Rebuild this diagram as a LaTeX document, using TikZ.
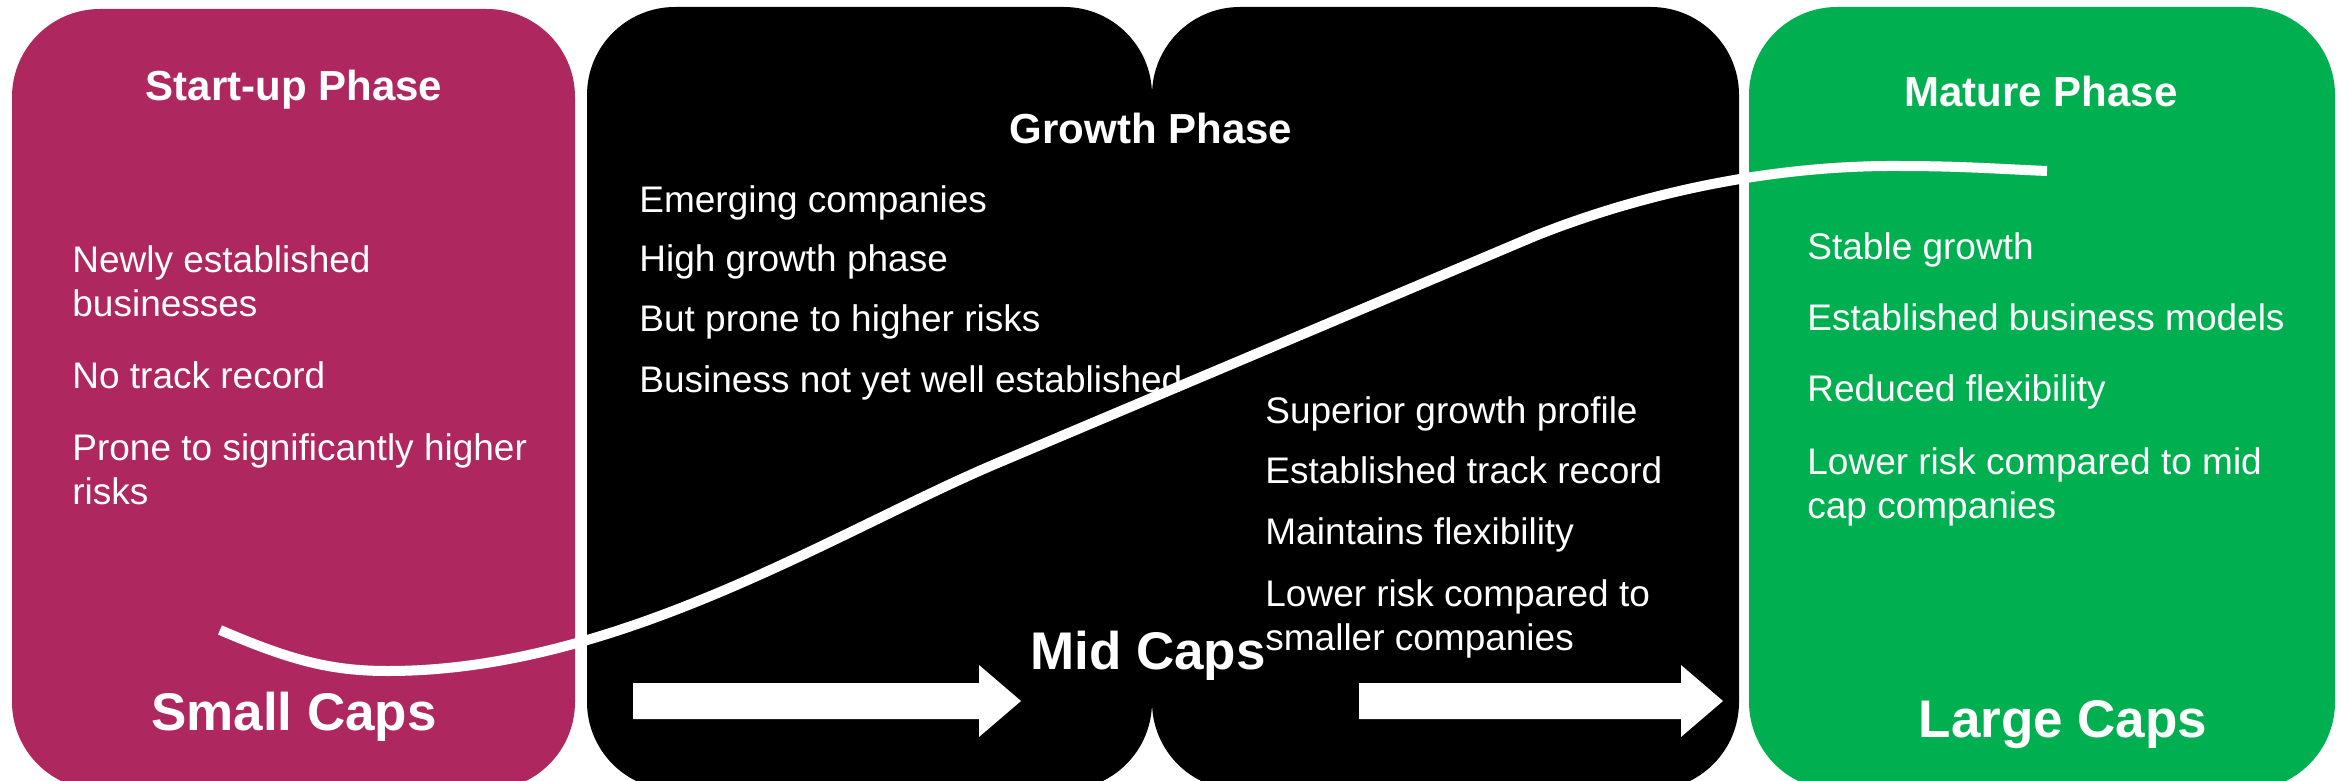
\documentclass[tikz,border=0pt]{standalone}
\usepackage{fontspec}
\setmainfont{Liberation Sans}
\definecolor{magentabox}{RGB}{174,39,94}
\definecolor{greenbox}{RGB}{0,176,80}
\begin{document}
\begin{tikzpicture}[x=0.5pt,y=-0.5pt,
  phasebox/.style={rounded corners=44pt},
  phasetitle/.style={text=white,font=\bfseries\fontsize{21}{25}\selectfont,anchor=base,inner sep=0pt},
  bullet/.style={text=white,font=\fontsize{18.5}{22}\selectfont,anchor=base west,align=left,inner sep=0pt},
  caplabel/.style={text=white,font=\bfseries\fontsize{26.5}{30}\selectfont,anchor=base,inner sep=0pt},
  blockarrow/.style={fill=white}]
\useasboundingbox (0,0) rectangle (2343,781);
\clip (0,0) rectangle (2343,781);
% boxes
\fill[magentabox,phasebox] (12,9) rectangle (575,790);
\fill[black,phasebox] (587,7) rectangle (1152,790);
\fill[black,phasebox] (1152,7) rectangle (1739,790);
\fill[greenbox,phasebox] (1749,7) rectangle (2335,790);
% titles
\node[phasetitle] (t1) at (294,101) {Start-up Phase};
\node[phasetitle] (t2) at (1151,143) {Growth Phase};
\node[phasetitle] (t4) at (2041,106) {Mature Phase};
% box 1 bullets (anchor = baseline of last line)
\node[bullet] (a1) at (72,316) {Newly established\\businesses};
\node[bullet] (a2) at (72,388) {No track record};
\node[bullet] (a3) at (72,504) {Prone to significantly higher\\risks};
% box 2 bullets
\node[bullet] (b1) at (639,212) {Emerging companies};
\node[bullet] (b2) at (639,271) {High growth phase};
\node[bullet] (b3) at (639,331) {But prone to higher risks};
\node[bullet] (b4) at (639,392) {Business not yet well established};
% box 3 bullets
\node[bullet] (c1) at (1265,423) {Superior growth profile};
\node[bullet] (c2) at (1265,483) {Established track record};
\node[bullet] (c3) at (1265,544) {Maintains flexibility};
\node[bullet] (c4) at (1265,650) {Lower risk compared to\\smaller companies};
% box 4 bullets
\node[bullet] (d1) at (1807,259) {Stable growth};
\node[bullet] (d2) at (1807,330) {Established business models};
\node[bullet] (d3) at (1807,401) {Reduced flexibility};
\node[bullet] (d4) at (1807,518) {Lower risk compared to mid\\cap companies};
% cap labels
\node[caplabel] (s) at (294,730) {Small Caps};
\node[caplabel] (m) at (1148,669) {Mid Caps};
\node[caplabel] (l) at (2063,737) {Large Caps};
% growth curve
\draw[white,line width=5pt,line join=round]
  (220,630) .. controls (290,660) and (330,671) .. (388,671)
  .. controls (620,671) and (840,529) .. (1000,462)
  -- (1535,236)
  .. controls (1650,190) and (1780,165) .. (1900,166)
  .. controls (1960,166) and (2000,169) .. (2047,171);
% block arrows
\fill[blockarrow] (633,683) -- (979,683) -- (979,665) -- (1021,701) -- (979,737) -- (979,719) -- (633,719) -- cycle;
\fill[blockarrow] (1359,683) -- (1681,683) -- (1681,665) -- (1723,701) -- (1681,737) -- (1681,719) -- (1359,719) -- cycle;
\end{tikzpicture}
\end{document}
